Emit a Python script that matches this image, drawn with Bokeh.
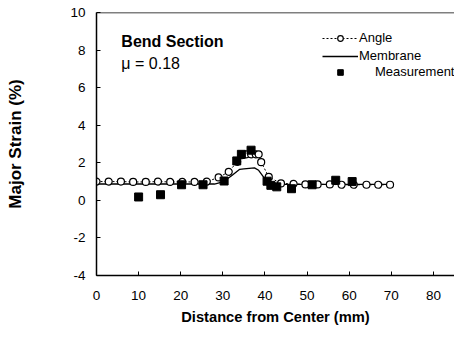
from bokeh.plotting import figure
from bokeh.models import Range1d, Span, Label, Legend, LegendItem, FixedTicker
from bokeh.embed import file_html
from bokeh.resources import INLINE

# ---- data ----
angle_x = [0, 2.9, 5.8, 8.7, 11.7, 14.6, 17.5, 20.4, 23.3, 26.2, 29.0, 31.4, 33.4,
           34.5, 35.6, 36.7, 37.8, 38.5, 39.1, 40.9, 43.8, 46.8, 49.6, 52.5, 55.4,
           58.2, 61.1, 64.1, 66.9, 69.7]
angle_y = [1.0, 1.0, 1.0, 0.98, 0.98, 1.0, 0.98, 0.98, 0.98, 1.0, 1.22, 1.52, 2.05,
           2.4, 2.45, 2.45, 2.45, 2.45, 2.03, 1.25, 0.9, 0.88, 0.85, 0.85, 0.85,
           0.83, 0.83, 0.83, 0.83, 0.83]

mem_x = [0, 28, 30, 32, 34, 35, 37.5, 38.5, 40.5, 42, 70]
mem_y = [0.87, 0.87, 0.98, 1.3, 1.65, 1.68, 1.73, 1.6, 0.98, 0.85, 0.85]

meas_x = [10, 15.2, 20.2, 25.3, 30.3, 33.3, 34.4, 36.7, 40.5, 41.4, 42.8, 46.3, 51.2, 56.8, 60.7]
meas_y = [0.18, 0.3, 0.83, 0.83, 1.03, 2.1, 2.45, 2.67, 1.02, 0.8, 0.72, 0.62, 0.83, 1.07, 1.0]

x_ticks = [0, 10, 20, 30, 40, 50, 60, 70, 80]
y_ticks = [-4, -2, 0, 2, 4, 6, 8, 10]
y_tick_labels = {t: str(t) for t in y_ticks}

FONT = "Liberation Sans"

p = figure(width=454, height=357, output_backend="svg", toolbar_location=None,
           x_range=Range1d(0, 85), y_range=Range1d(-4, 10),
           min_border_left=96, min_border_right=0, min_border_top=12, min_border_bottom=82)
p.outline_line_color = None
p.xgrid.visible = False
p.ygrid.visible = False
p.background_fill_color = "white"

for ax in (p.xaxis, p.yaxis):
    ax.axis_line_width = 1.5
    ax.axis_line_color = "black"
    ax.major_tick_in = 4
    ax.major_tick_out = 0
    ax.minor_tick_line_color = None
    ax.major_label_text_font = FONT
    ax.major_label_text_font_size = "13.5px"
    ax.major_label_text_color = "black"
    ax.axis_label_text_font = FONT
    ax.axis_label_text_font_style = "bold"
    ax.axis_label_text_color = "black"

p.xaxis.ticker = FixedTicker(ticks=x_ticks)
p.yaxis.ticker = FixedTicker(ticks=y_ticks)
p.yaxis.major_label_overrides = y_tick_labels
p.xaxis.axis_label = "Distance from Center (mm)"
p.yaxis.axis_label = "Major Strain (%)"
p.xaxis.axis_label_text_font_size = "14.7px"
p.yaxis.axis_label_text_font_size = "17px"
p.xaxis.major_label_standoff = 15
p.yaxis.major_label_standoff = 11
p.xaxis.axis_label_standoff = 6
p.yaxis.axis_label_standoff = 42

p.add_layout(Span(location=10, dimension="width", line_color="black", line_width=1.5))

r_mem = p.line(mem_x, mem_y, line_color="black", line_width=1.3)
r_aline = p.line(angle_x, angle_y, line_color="black", line_width=1, line_dash="2 2")
r_acirc = p.scatter(angle_x, angle_y, marker="circle", size=7, fill_color="white",
                    line_color="black", line_width=1.2)
r_meas = p.scatter(meas_x, meas_y, marker="square", size=8, fill_color="black",
                   line_color="black")


def style_legend(lg, standoff):
    lg.border_line_color = None
    lg.background_fill_alpha = 0
    lg.label_text_font = FONT
    lg.label_text_font_size = "13px"
    lg.label_text_color = "black"
    lg.glyph_width = 36
    lg.glyph_height = 14
    lg.spacing = 3
    lg.label_standoff = standoff
    lg.padding = 2
    lg.margin = 0


legend1 = Legend(items=[
    LegendItem(label="Angle", renderers=[r_aline, r_acirc]),
    LegendItem(label="Membrane", renderers=[r_mem]),
], location=(226, 212))
style_legend(legend1, 1)
legend2 = Legend(items=[
    LegendItem(label="Measurement", renderers=[r_meas]),
], location=(226, 196))
style_legend(legend2, 17)
p.add_layout(legend1)
p.add_layout(legend2)

p.add_layout(Label(x=5.9, y=8.45, text="Bend Section", text_font=FONT,
                   text_font_style="bold", text_font_size="16px",
                   text_baseline="middle", text_color="black"))
p.add_layout(Label(x=5.9, y=7.3, text="\u03bc = 0.18", text_font=FONT,
                   text_font_size="16px", text_baseline="middle", text_color="black"))

open("out.html", "w").write(file_html(p, INLINE))
